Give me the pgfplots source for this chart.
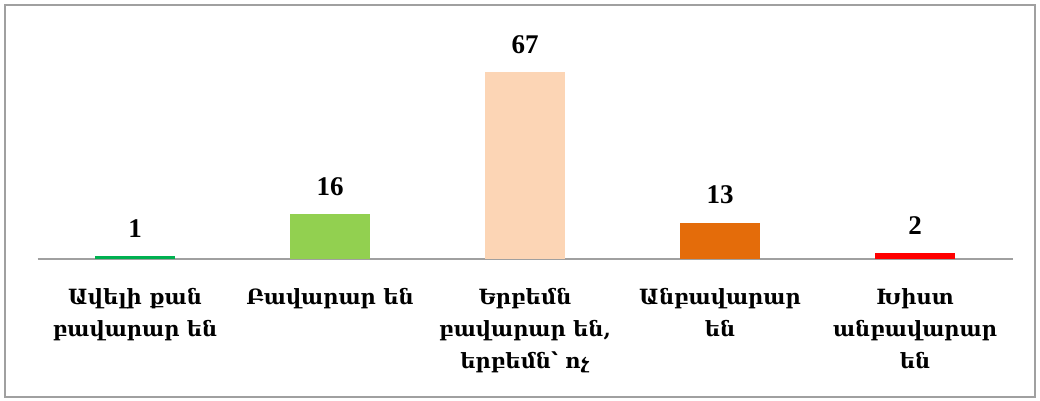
\documentclass[border=0pt]{standalone}
\usepackage{fontspec}
\usepackage{pgfplots}
\pgfplotsset{compat=1.18}
\setmainfont{Liberation Serif}
\newfontfamily\armfont{DejaVu Serif}
\definecolor{c1}{HTML}{00B050}
\definecolor{c2}{HTML}{92D050}
\definecolor{c3}{HTML}{FCD5B5}
\definecolor{c4}{HTML}{E46C0A}
\definecolor{c5}{HTML}{FF0000}
\definecolor{frame}{HTML}{A0A0A0}
\begin{document}
\begin{tikzpicture}
\path[use as bounding box] (-37.5bp,-142bp) rectangle (1002.5bp,259bp);
\draw[frame, line width=1.5bp] (-32.5bp,-138bp) rectangle (997.5bp,254bp);
\begin{axis}[
    at={(0,0)}, anchor=south west,
    scale only axis,
    width=975bp, height=239bp,
    ybar, bar width=0.41, bar shift=0pt,
    xmin=-0.5, xmax=4.5,
    ymin=0, ymax=85.7,
    axis x line=bottom,
    axis y line=none,
    x axis line style={-, draw=frame, line width=1.5bp},
    xtick={0,1,2,3,4},
    major tick length=0pt,
    xticklabels={
        {Ավելի քան\\բավարար են},
        {Բավարար են},
        {Երբեմն\\բավարար են,\\երբեմն՝ ոչ},
        {Անբավարար\\են},
        {Խիստ\\անբավարար\\են}},
    xticklabel style={font=\armfont\bfseries\fontsize{21bp}{32bp}\selectfont,
        align=center, anchor=north, yshift=-26bp},
    /pgf/number format/assume math mode=true,
    nodes near coords,
    every node near coord/.append style={font=\bfseries\fontsize{27bp}{30bp}\selectfont,
        black, yshift=15bp},
]
\addplot[fill=c1, draw=none] coordinates {(0,1)};
\addplot[fill=c2, draw=none] coordinates {(1,16)};
\addplot[fill=c3, draw=none] coordinates {(2,67)};
\addplot[fill=c4, draw=none] coordinates {(3,13)};
\addplot[fill=c5, draw=none] coordinates {(4,2)};
\end{axis}
\end{tikzpicture}
\end{document}
